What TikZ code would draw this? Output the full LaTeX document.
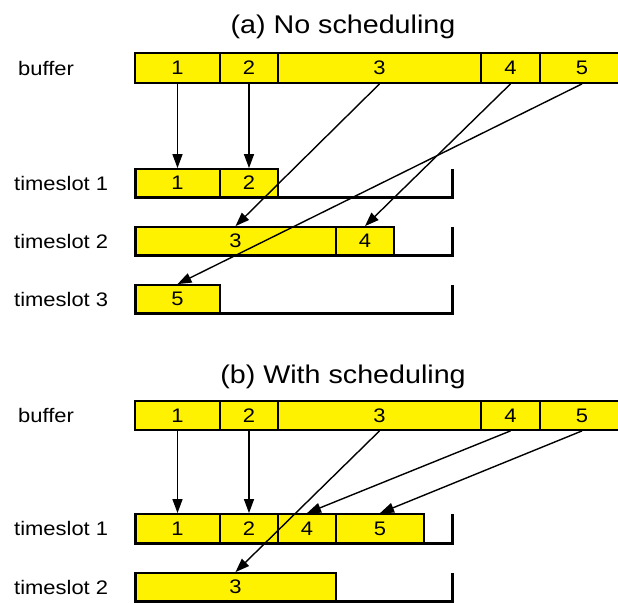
\documentclass[tikz,border=0pt]{standalone}
\usepackage{fontspec}
\setmainfont[FakeStretch=1.12]{Liberation Sans}
\usetikzlibrary{arrows.meta}

\begin{document}
\begin{tikzpicture}[x=1pt, y=-1pt,
	cell/.style={draw, fill=yellow, line width=1.8pt, inner sep=0pt, font=\fontsize{19.6}{22}\selectfont},
	lbl/.style={anchor=west, inner sep=0pt, font=\fontsize{19.6}{22}\selectfont},
	ttl/.style={anchor=base, inner sep=0pt, font=\fontsize{25.6}{30}\selectfont},
	slot/.style={line width=3pt},
	move/.style={line width=1.4pt, -{Triangle[length=14pt, width=10pt]}}]
		\useasboundingbox (0,0) rectangle (618,603);
		\clip (0,0) rectangle (618,603);

		% (a) no scheduling
		\node[ttl] (ta) at (343,33) {(a) No scheduling};
		\node[lbl] (la0) at (18,68) {buffer};
		\node[lbl] (la1) at (14,183) {timeslot 1};
		\node[lbl] (la2) at (14,241) {timeslot 2};
		\node[lbl] (la3) at (14,299) {timeslot 3};

		\node[cell, minimum width=85, minimum height=30] (a1) at (177.5,68) {1};
		\node[cell, minimum width=58, minimum height=30] (a2) at (249,68) {2};
		\node[cell, minimum width=203, minimum height=30] (a3) at (379.5,68) {3};
		\node[cell, minimum width=59, minimum height=30] (a4) at (510.5,68) {4};
		\node[cell, minimum width=84, minimum height=30] (a5) at (582,68) {5};

		\node[cell, minimum width=85, minimum height=28] (sa1) at (177.5,183) {1};
		\node[cell, minimum width=58, minimum height=28] (sa2) at (249,183) {2};
		\node[cell, minimum width=201, minimum height=28] (sa3) at (235.5,241) {3};
		\node[cell, minimum width=58, minimum height=28] (sa4) at (365,241) {4};
		\node[cell, minimum width=85, minimum height=28] (sa5) at (177.5,299) {5};

		\draw[slot] (135,169) -- (135,197) -- (452,197) -- (452,169);
		\draw[slot] (135,227) -- (135,255) -- (452,255) -- (452,227);
		\draw[slot] (135,285) -- (135,313) -- (452,313) -- (452,285);

		\draw[move] (a1.south) -- (sa1.north);
		\draw[move] (a2.south) -- (sa2.north);
		\draw[move] (a3.south) -- (sa3.north);
		\draw[move] (a4.south) -- (sa4.north);
		\draw[move] (a5.south) -- (sa5.north);

		% (b) with scheduling
		\node[ttl] (tb) at (343,383) {(b) With scheduling};
		\node[lbl] (lb0) at (18,415.5) {buffer};
		\node[lbl] (lb1) at (14,528.5) {timeslot 1};
		\node[lbl] (lb2) at (14,587) {timeslot 2};

		\node[cell, minimum width=85, minimum height=29] (b1) at (177.5,415.5) {1};
		\node[cell, minimum width=58, minimum height=29] (b2) at (249,415.5) {2};
		\node[cell, minimum width=203, minimum height=29] (b3) at (379.5,415.5) {3};
		\node[cell, minimum width=59, minimum height=29] (b4) at (510.5,415.5) {4};
		\node[cell, minimum width=84, minimum height=29] (b5) at (582,415.5) {5};

		\node[cell, minimum width=85, minimum height=29] (sb1) at (177.5,528.5) {1};
		\node[cell, minimum width=58, minimum height=29] (sb2) at (249,528.5) {2};
		\node[cell, minimum width=58, minimum height=29] (sb4) at (307,528.5) {4};
		\node[cell, minimum width=88, minimum height=29] (sb5) at (380,528.5) {5};
		\node[cell, minimum width=201, minimum height=28] (sb3) at (235.5,587) {3};

		\draw[slot] (135,514) -- (135,543) -- (452,543) -- (452,514);
		\draw[slot] (135,573) -- (135,601) -- (452,601) -- (452,573);

		\draw[move] (b1.south) -- (sb1.north);
		\draw[move] (b2.south) -- (sb2.north);
		\draw[move] (b3.south) -- (sb3.north);
		\draw[move] (b4.south) -- (sb4.north);
		\draw[move] (b5.south) -- (sb5.north);
	\end{tikzpicture}
\end{document}
